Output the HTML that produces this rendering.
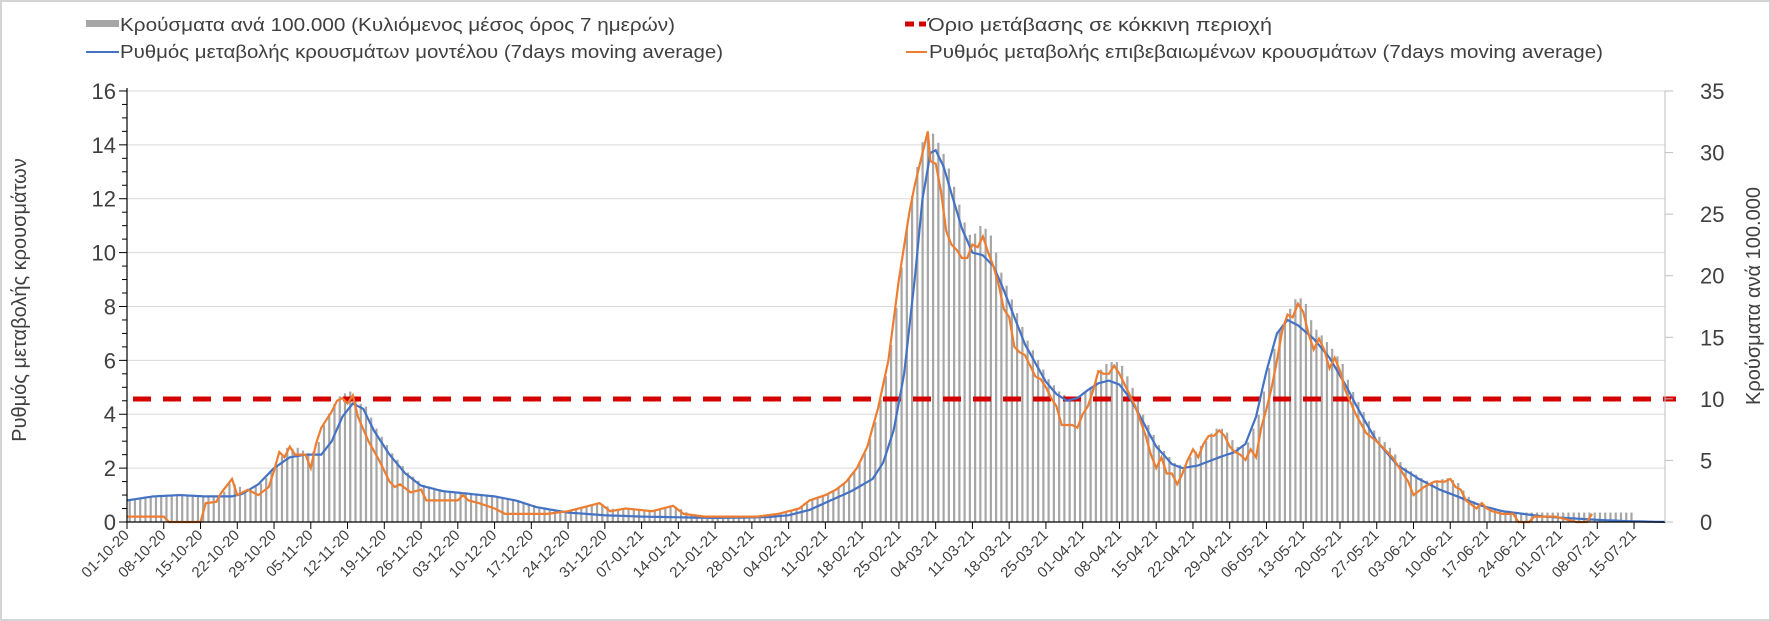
<!DOCTYPE html>
<html><head><meta charset="utf-8"><style>
html,body{margin:0;padding:0;background:#fff}
svg{display:block}
text{font-family:"Liberation Sans","DejaVu Sans",sans-serif;fill:#404040}
</style></head><body>
<svg id="c" width="1771" height="621" xmlns="http://www.w3.org/2000/svg">
<rect x="1" y="1" width="1769" height="619" fill="#fff" stroke="#d4d4d4" stroke-width="2"/>
<g id="grid"></g>
<g id="bars"></g>
<line x1="133" y1="399" x2="1676" y2="399" stroke="#d40000" stroke-width="5" stroke-dasharray="18,12"/>
<polyline id="blue" fill="none" stroke="#4472c4" stroke-width="2.2"/>
<polyline id="orange" fill="none" stroke="#ed7d31" stroke-width="2.2"/>
<g id="axes"></g>
<!-- legend -->
<rect x="86" y="20" width="33" height="7" fill="#a6a6a6"/>
<text x="120" y="31" font-size="18" textLength="555" lengthAdjust="spacingAndGlyphs">Κρούσματα ανά 100.000 (Κυλιόμενος μέσος όρος 7 ημερών)</text>
<line x1="905" y1="24" x2="926" y2="24" stroke="#d40000" stroke-width="5" stroke-dasharray="9,5"/>
<text x="928" y="31" font-size="18" textLength="344" lengthAdjust="spacingAndGlyphs">Όριο μετάβασης σε κόκκινη περιοχή</text>
<line x1="86" y1="52" x2="119" y2="52" stroke="#4472c4" stroke-width="2"/>
<text x="120" y="58" font-size="18" textLength="603" lengthAdjust="spacingAndGlyphs">Ρυθμός μεταβολής κρουσμάτων μοντέλου (7days moving average)</text>
<line x1="906" y1="52" x2="927" y2="52" stroke="#ed7d31" stroke-width="2"/>
<text x="929" y="58" font-size="18" textLength="674" lengthAdjust="spacingAndGlyphs">Ρυθμός μεταβολής επιβεβαιωμένων κρουσμάτων (7days moving average)</text>
<text transform="translate(26,300) rotate(-90)" text-anchor="middle" font-size="20">Ρυθμός μεταβολής κρουσμάτων</text>
<text transform="translate(1760,296) rotate(-90)" text-anchor="middle" font-size="20">Κρούσματα ανά 100.000</text>
</svg>
<script>
(function(){
var NS="http://www.w3.org/2000/svg";
var X0=127,DX=5.251,Y0=522,PU=26.94;
function el(p,n,a,t){var e=document.createElementNS(NS,n);for(var k in a)e.setAttribute(k,a[k]);if(t!==undefined)e.textContent=t;document.getElementById(p).appendChild(e);return e;}
function interp(k,d){for(var i=0;i<k.length-1;i++){if(d>=k[i][0]&&d<=k[i+1][0]){var t=(d-k[i][0])/(k[i+1][0]-k[i][0]);return k[i][1]+t*(k[i+1][1]-k[i][1]);}}return null;}
var B=[[0,.8],[5,.95],[10,1],[15,.95],[20,.95],[22,1.05],[25,1.4],[28,2],[31,2.4],[34,2.5],[37,2.5],[39,3],[41,3.9],[43,4.4],[45,4.2],[47,3.4],[50,2.5],[53,1.8],[56,1.35],[60,1.15],[65,1.05],[70,0.95],[74,0.8],[78,0.55],[84,0.35],[91,0.25],[98,0.2],[112,0.15],[122,0.18],[126,0.25],[130,0.45],[134,0.8],[138,1.15],[142,1.6],[144,2.2],[146,3.4],[148,5.5],[150,9],[151.5,12],[153,13.7],[154,13.8],[155.5,13.2],[157,12.2],[159,10.9],[161,10],[163,9.9],[165,9.5],[167,8.6],[169,7.6],[171,6.6],[173,5.9],[175,5.2],[177,4.75],[179,4.5],[181,4.6],[183,4.9],[185,5.15],[187,5.25],[189,5.1],[191,4.6],[193,3.9],[196,2.8],[199,2.15],[201,2.0],[204,2.1],[208,2.4],[211,2.6],[213,2.9],[215,3.9],[217,5.6],[219,7.0],[221,7.5],[223,7.3],[226,6.8],[229,6.1],[232,5.1],[235,4.0],[238,3.0],[242,2.1],[246,1.6],[250,1.2],[254,0.9],[258,0.6],[262,0.4],[266,0.3],[270,0.2],[274,0.15],[280,0.08],[286,0.03],[293,0]];
var O=[[0,.2],[7,.2],[8,0],[14,0],[15,.7],[17,.75],[18,1.1],[20,1.6],[21,1.0],[23,1.2],[25,1.0],[27,1.3],[28,1.9],[29,2.6],[30,2.4],[31,2.8],[32,2.5],[34,2.5],[35,2.0],[36,2.9],[37,3.5],[39,4.1],[40,4.5],[41,4.6],[42,4.4],[43,4.7],[44,3.9],[46,3.0],[48,2.3],[50,1.5],[51,1.3],[52,1.4],[54,1.1],[56,1.2],[57,0.8],[60,0.8],[63,0.8],[64,1.0],[65,0.8],[67,0.7],[70,0.5],[72,0.3],[75,0.3],[80,0.3],[84,0.4],[86,0.5],[88,0.6],[90,0.7],[92,0.4],[95,0.5],[100,0.4],[104,0.6],[106,0.3],[110,0.2],[116,0.2],[120,0.2],[124,0.3],[128,0.5],[130,0.8],[133,1.0],[135,1.2],[137,1.5],[139,2.0],[141,2.8],[142,3.5],[143,4.2],[145,6.0],[147,9.0],[149,11.5],[150,12.5],[151,13.3],[152.5,14.5],[153,13.4],[154,13.3],[155,12.3],[156,10.8],[157,10.3],[158,10.1],[159,9.8],[160,9.8],[161,10.3],[162,10.2],[163,10.6],[164,10.0],[165,9.5],[166,8.8],[167,7.9],[168,7.6],[169,6.5],[170,6.3],[171,6.2],[172,5.8],[173,5.4],[174,5.3],[175,5.0],[176,4.6],[177,4.3],[178,3.6],[179,3.6],[180,3.6],[181,3.5],[182,4.0],[183,4.3],[184,4.9],[185,5.6],[186,5.5],[187,5.5],[188,5.8],[189,5.5],[190,5.1],[192,4.3],[194,3.2],[195,2.5],[196,2.0],[197,2.4],[198,1.8],[199,1.8],[200,1.4],[201,1.8],[202,2.3],[203,2.7],[204,2.4],[205,2.9],[206,3.2],[207,3.2],[208,3.4],[209,3.2],[210,2.8],[211,2.6],[212,2.5],[213,2.3],[214,2.7],[215,2.4],[216,3.5],[217,4.2],[218,5.0],[219,6.0],[220,7.1],[221,7.7],[222,7.6],[223,8.1],[224,7.8],[225,7.0],[226,6.4],[227,6.8],[228,6.4],[229,5.7],[230,6.1],[231,5.6],[232,4.9],[234,4.0],[236,3.3],[238,3.0],[239,2.8],[241,2.4],[243,1.8],[244,1.5],[245,1.0],[247,1.3],[249,1.5],[251,1.5],[252,1.6],[253,1.3],[254,1.2],[255,0.8],[257,0.5],[258,0.7],[259,0.5],[260,0.4],[262,0.3],[264,0.3],[265,0.0],[267,0.0],[268,0.2],[272,0.2],[274,0.1],[276,0.0],[278,0.0],[279,0.3]];
// grid
for(var v=2;v<=16;v+=2){var y=Y0-v*PU;el("grid","line",{x1:X0,y1:y,x2:1665,y2:y,stroke:"#d9d9d9","stroke-width":1});}
// bars
for(var d=0;d<=286;d++){
  var o1=interp(O,Math.max(0,d-1)),o2=interp(O,d),o3=interp(O,Math.min(279,d+1));
  var b=interp(B,d);var val;
  if(d<=279){val=Math.max((o1+o2+o3)/3*1.06,b*1.02);} else val=0.35;
  if(d>=262&&d<=279)val=Math.max(val,0.35);
  var h=val*PU;var x=X0+d*DX+1.6;
  el("bars","rect",{x:x,y:Y0-h,width:2.2,height:h,fill:"#a6a6a6"});
}
var pb=[],po=[];
for(var d=0;d<=293;d+=0.5){pb.push((X0+d*DX).toFixed(1)+","+(Y0-interp(B,d)*PU).toFixed(1));}
for(var i=0;i<O.length;i++){po.push((X0+O[i][0]*DX).toFixed(1)+","+(Y0-O[i][1]*PU).toFixed(1));}
document.getElementById("blue").setAttribute("points",pb.join(" "));
document.getElementById("orange").setAttribute("points",po.join(" "));
// axes
el("axes","line",{x1:X0,y1:88,x2:X0,y2:Y0,stroke:"#000","stroke-width":1.2});
el("axes","line",{x1:X0,y1:Y0,x2:1665,y2:Y0,stroke:"#000","stroke-width":1.2});
el("axes","line",{x1:1665,y1:91,x2:1665,y2:Y0,stroke:"#bfbfbf","stroke-width":1});
for(var v=0;v<=16;v+=0.5){var y=Y0-v*PU;var major=(v%2===0);el("axes","line",{x1:major?X0-8:X0-5,y1:y,x2:X0,y2:y,stroke:"#000","stroke-width":1});
 if(major)el("axes","text",{x:116,y:y+8,"font-size":22,"text-anchor":"end"},String(v));}
for(var r=0;r<=35;r+=5){var y=Y0-r*(431/35);el("axes","line",{x1:1665,y1:y,x2:1673,y2:y,stroke:"#bfbfbf","stroke-width":1});
 el("axes","text",{x:1700,y:y+8,"font-size":22},String(r));}
var start=new Date(2020,9,1);
for(var w=0;w<=41;w++){var dt=new Date(start.getTime()+w*7*86400000+3600000*12);
 var s=("0"+dt.getDate()).slice(-2)+"-"+("0"+(dt.getMonth()+1)).slice(-2)+"-"+String(dt.getFullYear()).slice(-2);
 var x=X0+w*7*DX;el("axes","line",{x1:x,y1:Y0,x2:x,y2:Y0+7,stroke:"#000","stroke-width":1});
 el("axes","text",{transform:"translate("+(x+3)+","+(Y0+14)+") rotate(-45)","font-size":15,"text-anchor":"end"},s);}
})();
</script>
</body></html>
